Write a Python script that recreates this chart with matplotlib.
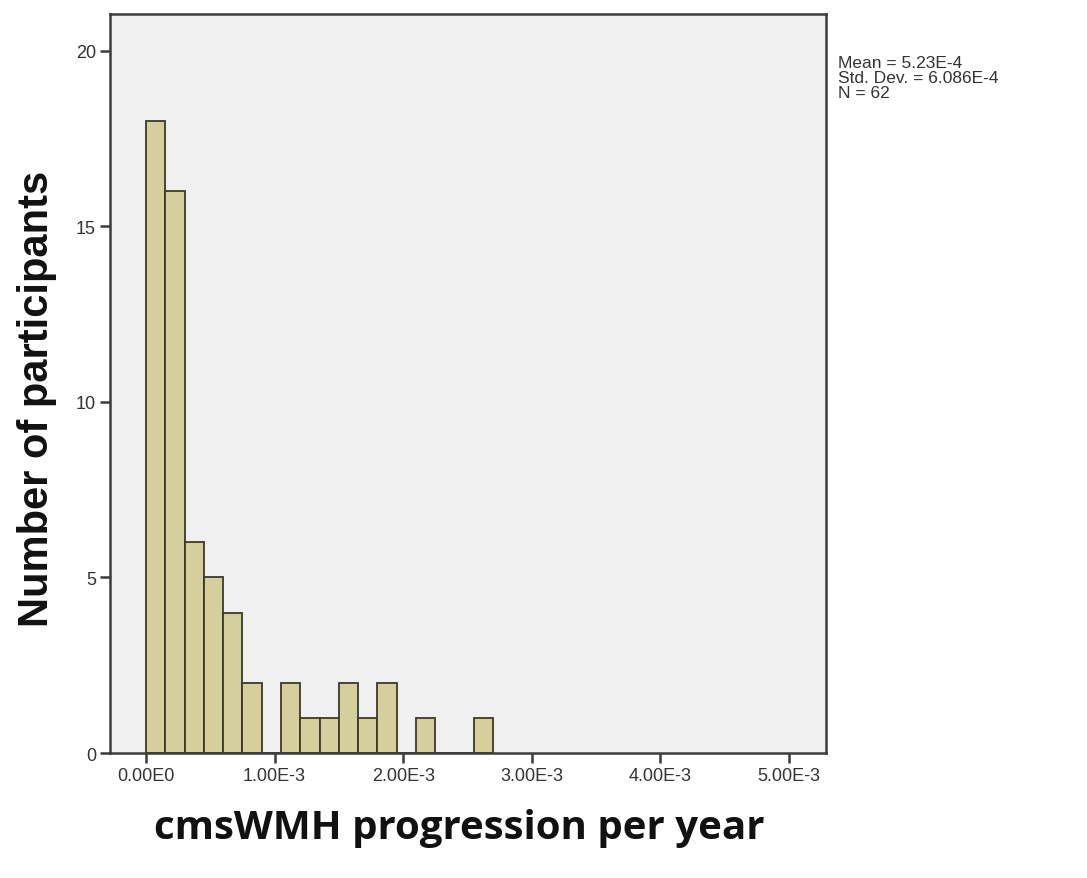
import numpy as np
import matplotlib
matplotlib.use("Agg")
import matplotlib.pyplot as plt

# Histogram data (SPSS style output)
bin_width = 1.5e-4
counts = [18, 16, 6, 5, 4, 2, 0, 2, 1, 1, 2, 1, 2, 0, 1, 0, 0, 1]
xticks = [0.0, 1e-3, 2e-3, 3e-3, 4e-3, 5e-3]
xtick_labels = ["0.00E0", "1.00E-3", "2.00E-3", "3.00E-3", "4.00E-3", "5.00E-3"]
yticks = [0, 5, 10, 15, 20]
stats_lines = ["Mean = 5.23E-4", "Std. Dev. = 6.086E-4", "N = 62"]

left_edges = np.arange(len(counts)) * bin_width

fig = plt.figure(figsize=(10.87, 8.79), dpi=100)
ax = fig.add_axes([0.1012, 0.1422, 0.6588, 0.8408])
ax.set_facecolor("#f0f0f0")

ax.bar(left_edges, counts, width=bin_width, align="edge",
       color="#d4cf9d", edgecolor="#3a3a2a", linewidth=1.3)

ax.set_xlim(-0.28e-3, 5.29e-3)
ax.set_ylim(0, 21.05)
ax.set_xticks(xticks)
ax.set_xticklabels(xtick_labels)
ax.set_yticks(yticks)

for s in ax.spines.values():
  s.set_color("#3c3c3c")
  s.set_linewidth(1.8)

ax.tick_params(direction="out", length=7, width=1.8, colors="#3c3c3c",
               labelsize=13, labelcolor="#333333", pad=3)
for lab in ax.get_xticklabels() + ax.get_yticklabels():
  lab.set_family("Liberation Sans")

ax.set_xlabel("cmsWMH progression per year", fontsize=29, fontweight="bold",
              family="Open Sans", color="#111111")
ax.xaxis.set_label_coords(0.487, -0.075)
ax.set_ylabel("Number of participants", fontsize=30, fontweight="bold",
              family="Liberation Sans", color="#111111")
ax.yaxis.set_label_coords(-0.074, 0.48)

fig.text(0.771, 0.936, "\n".join(stats_lines), fontsize=12.5, family="Liberation Sans",
         color="#333333", va="top", ha="left", linespacing=0.98)

fig.savefig("out.png", dpi=100)
